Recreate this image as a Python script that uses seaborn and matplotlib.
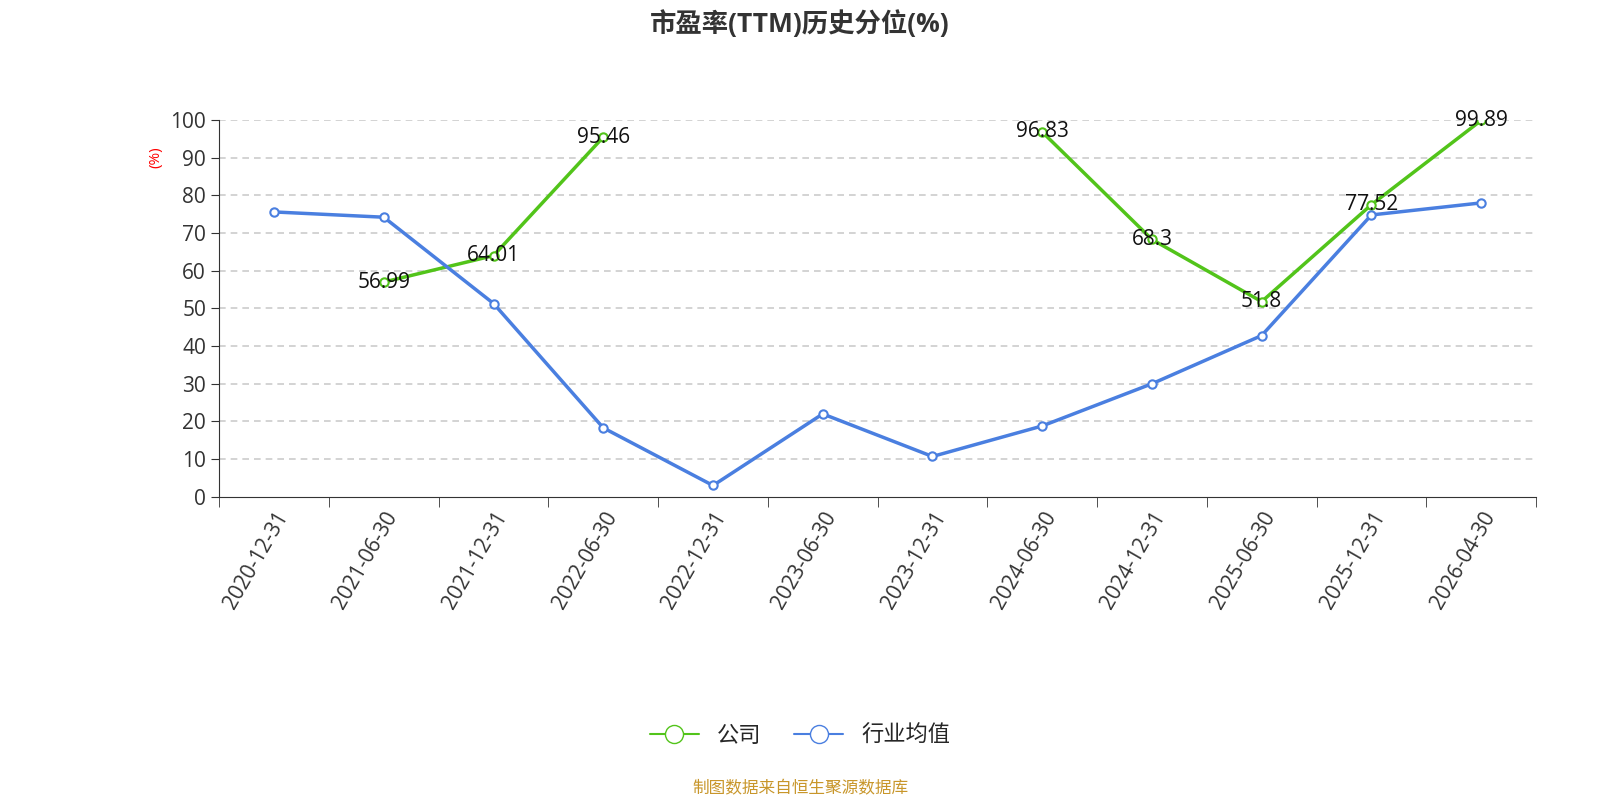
import matplotlib
matplotlib.use("Agg")
import matplotlib.pyplot as plt
import seaborn as sns
import numpy as np
import pandas as pd
from matplotlib.lines import Line2D

dates = ["2020-12-31","2021-06-30","2021-12-31","2022-06-30","2022-12-31","2023-06-30",
         "2023-12-31","2024-06-30","2024-12-31","2025-06-30","2025-12-31","2026-04-30"]
company = [np.nan, 56.99, 64.01, 95.46, np.nan, np.nan, np.nan, 96.83, 68.3, 51.8, 77.52, 99.89]
industry = [75.6, 74.2, 51.3, 18.3, 3.0, 22.0, 10.7, 18.8, 30.0, 42.8, 74.8, 78.0]

sns.set_style("white")
plt.rcParams['font.family'] = ['Open Sans', 'Noto Sans CJK SC', 'DejaVu Sans']

green = "#52c41a"; blue = "#4a7fe0"
fig = plt.figure(figsize=(16, 8), dpi=100)
ax = fig.add_axes([0.137, 0.379, 0.823, 0.471])
x = np.arange(len(dates))
df = pd.DataFrame({"x": x, "company": company, "industry": industry})

ax.plot(df.x, df.company, color=green, lw=2.5, marker="o", ms=6, mfc="white", mec=green, mew=1.5, zorder=3)
sns.lineplot(data=df, x="x", y="industry", ax=ax, color=blue, lw=2.5, marker="o", ms=6,
             markerfacecolor="white", markeredgecolor=blue, markeredgewidth=1.5, zorder=3)
for xi, v in zip(x, company):
    if not np.isnan(v):
        ax.text(xi, v, f"{v:g}", ha="center", va="center", fontsize=15, color="#111", zorder=4)

ax.set_xlim(-0.5, 11.5)
ax.set_ylim(0, 100)
ax.set_yticks(range(0, 101, 10))
ax.tick_params(axis='y', labelsize=15, colors="#333", length=6, left=True)
ax.set_xticks(x)
ax.set_xticklabels(dates, rotation=60, ha="right", rotation_mode="anchor", fontsize=15, color="#333")
ax.tick_params(axis='x', length=0, pad=8)
ax.set_xticks(np.arange(-0.5, 12, 1), minor=True)
ax.tick_params(axis='x', which='minor', length=7, bottom=True, color="#333")
ax.set_xlabel(""); ax.set_ylabel("")
for y in range(10, 101, 10):
    ax.axhline(y, color="#cccccc", ls=(0, (4, 3)), lw=1.2, zorder=1)
for s in ["top", "right"]:
    ax.spines[s].set_visible(False)
ax.spines["left"].set_color("#333"); ax.spines["bottom"].set_color("#333")
ax.text(-0.048, 0.9, "(%)", transform=ax.transAxes, rotation=90, color="red", fontsize=11, ha="center", va="center")

fig.text(0.5, 0.97, "市盈率(TTM)历史分位(%)", ha="center", va="center", fontsize=19, fontweight="bold", color="#333")
handles = [Line2D([], [], color=green, lw=1.5, marker="o", ms=13, mfc="white", mec=green),
           Line2D([], [], color=blue, lw=1.5, marker="o", ms=13, mfc="white", mec=blue)]
fig.legend(handles, ["公司", "行业均值"], loc="center", bbox_to_anchor=(0.5, 0.08), ncol=2,
           frameon=False, fontsize=16, handlelength=2.2, columnspacing=1.5)
fig.text(0.5, 0.014, "制图数据来自恒生聚源数据库", ha="center", va="center", fontsize=12, color="#c8962a")
fig.savefig("out.png", dpi=100)
